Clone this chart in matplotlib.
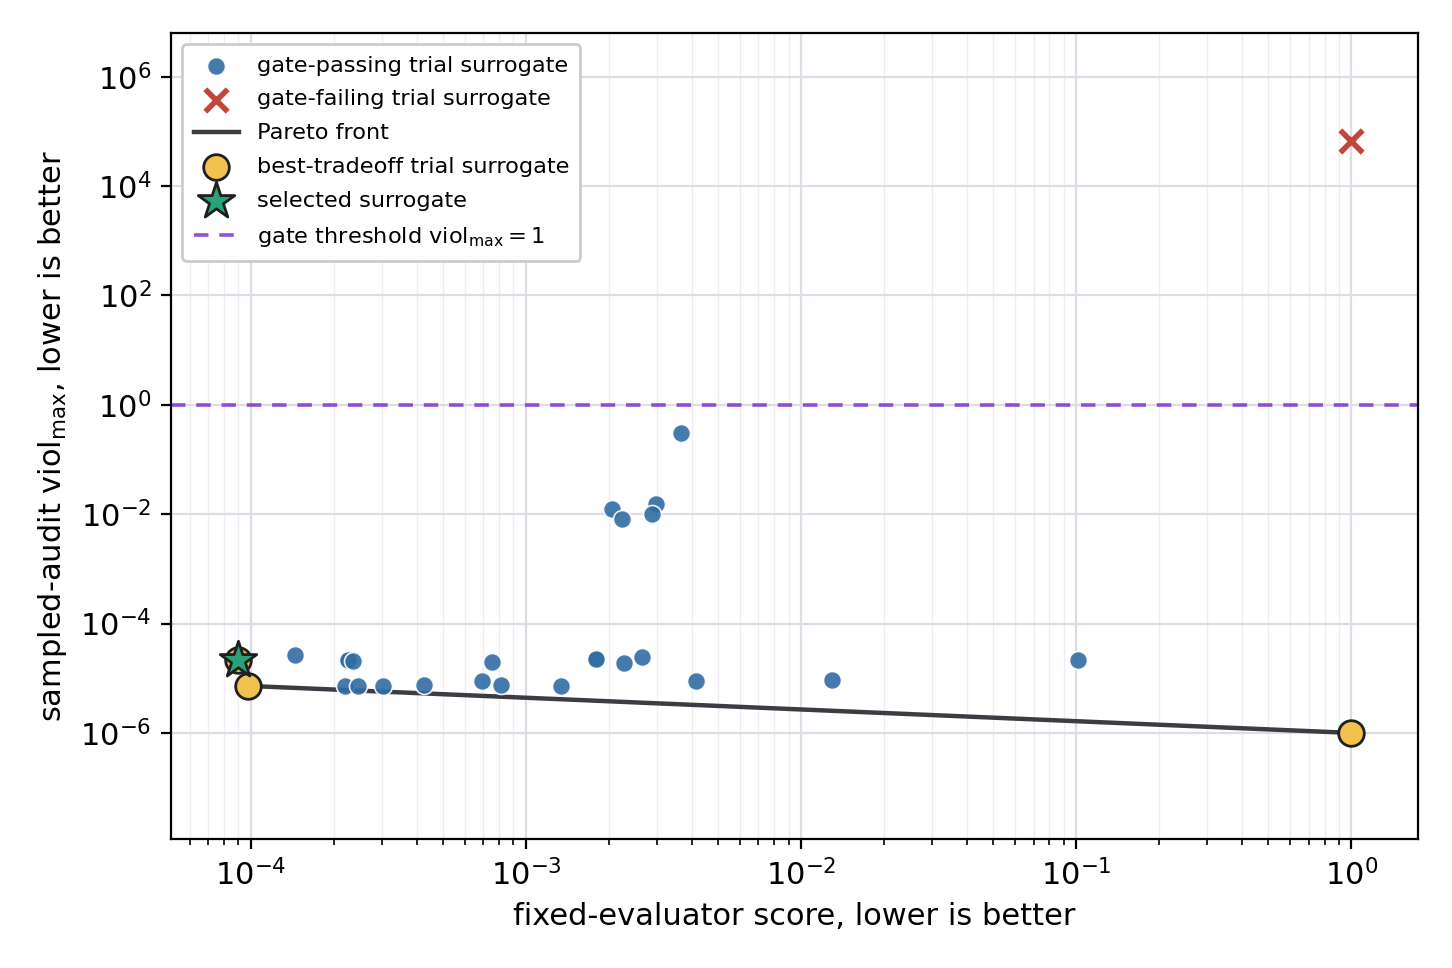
import numpy as np
import matplotlib.pyplot as plt

# gate-passing trials: fixed-evaluator score vs sampled-audit viol_max
pass_score = [1.445e-4, 2.23e-4, 2.25e-4, 2.35e-4, 2.20e-4, 2.45e-4, 3.03e-4, 4.26e-4,
              6.93e-4, 7.54e-4, 8.09e-4, 1.34e-3, 1.80e-3, 1.80e-3, 2.28e-3, 2.65e-3,
              4.15e-3, 1.30e-2, 0.1016, 2.06e-3, 2.24e-3, 2.97e-3, 2.88e-3, 3.67e-3]
pass_viol = [2.67e-5, 2.17e-5, 2.17e-5, 2.10e-5, 7.3e-6, 7.3e-6, 7.3e-6, 7.5e-6,
             8.9e-6, 1.97e-5, 7.5e-6, 7.3e-6, 2.23e-5, 2.23e-5, 1.88e-5, 2.49e-5,
             8.9e-6, 9.3e-6, 2.17e-5, 1.27e-2, 8.3e-3, 1.53e-2, 1.0e-2, 0.303]

fail_score = [1.0]
fail_viol = [6.7e4]

pareto_score = [9.77e-5, 1.0]
pareto_viol = [7.24e-6, 1.0e-6]

best_score = [8.99e-5, 9.77e-5, 1.0]
best_viol = [2.17e-5, 7.24e-6, 1.0e-6]

selected_score = [8.99e-5]
selected_viol = [2.17e-5]

threshold = 1.0

fig = plt.figure(figsize=(7.26, 4.84), dpi=200)
ax = fig.add_axes([0.1178, 0.1333, 0.8588, 0.8326])

ax.set_xscale('log')
ax.set_yscale('log')

ax.scatter(pass_score, pass_viol, s=42, color='#2f6da3', alpha=0.9,
           edgecolor='white', linewidth=0.6, label='gate-passing trial surrogate', zorder=3)
ax.scatter(fail_score, fail_viol, s=65, marker='x', color='#c0473a', linewidth=2,
           label='gate-failing trial surrogate', zorder=3)
ax.plot(pareto_score, pareto_viol, color='#3a3d42', lw=1.6, label='Pareto front', zorder=2)
ax.scatter(best_score, best_viol, s=85, color='#f2c14e', edgecolor='#1f1f1f', linewidth=1.0,
           label='best-tradeoff trial surrogate', zorder=4)
ax.scatter(selected_score, selected_viol, s=190, marker='*', color='#27a477', edgecolor='#1f1f1f',
           linewidth=1.0, label='selected surrogate', zorder=5)
ax.axhline(threshold, color='#7b35d0', ls='--', lw=1.3, dashes=(4, 3), alpha=0.85,
           label=r'gate threshold $\mathrm{viol}_{\max} = 1$', zorder=2)

ax.set_xlim(5.12e-5, 1.75)
ax.set_ylim(1.15e-8, 6.3e6)

ax.grid(True, which='major', color='#dcdde5', lw=0.8, zorder=0)
ax.grid(True, which='minor', axis='x', color='#eeeef2', lw=0.5, zorder=0)
ax.set_axisbelow(True)

ax.tick_params(labelsize=11)
ax.set_xlabel('fixed-evaluator score, lower is better', fontsize=11)
ax.set_ylabel(r'sampled-audit $\mathrm{viol}_{\max}$, lower is better', fontsize=11)

leg = ax.legend(loc='upper left', fontsize=8.1, frameon=True, framealpha=1,
                edgecolor='#cccccc', borderpad=0.5, labelspacing=0.62)

fig.savefig('out.png', dpi=200)
